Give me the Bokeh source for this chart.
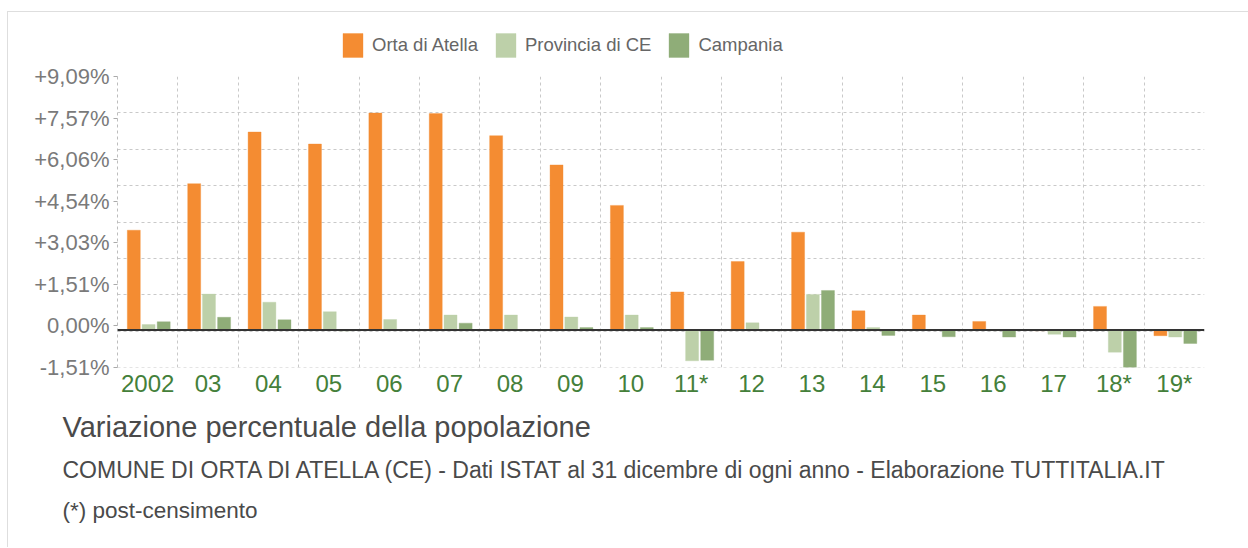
from bokeh.plotting import figure
from bokeh.layouts import column
from bokeh.models import (ColumnDataSource, Range1d, FixedTicker, Span, Label,
                          Legend, LegendItem, CustomJSTickFormatter)
from bokeh.transform import dodge
from bokeh.embed import file_html
from bokeh.resources import INLINE

# ---------------- data ----------------
years = ["2002", "03", "04", "05", "06", "07", "08", "09", "10", "11*",
         "12", "13", "14", "15", "16", "17", "18*", "19*"]
orta = [3.58, 5.25, 7.10, 6.67, 7.78, 7.76, 6.97, 5.92, 4.47, 1.37,
        2.46, 3.51, 0.69, 0.54, 0.31, -0.02, 0.85, -0.20]
prov = [0.20, 1.29, 1.00, 0.66, 0.38, 0.54, 0.54, 0.47, 0.54, -1.10,
        0.26, 1.28, 0.09, -0.01, -0.02, -0.15, -0.79, -0.25]
camp = [0.30, 0.46, 0.37, -0.03, -0.01, 0.25, -0.02, 0.09, 0.09, -1.08,
        -0.02, 1.42, -0.19, -0.24, -0.25, -0.25, -1.34, -0.48]
series_names = ["Orta di Atella", "Provincia di CE", "Campania"]
y_tick_labels = ["+9,09%", "+7,57%", "+6,06%", "+4,54%", "+3,03%", "+1,51%", "0,00%", "-1,51%"]
y_top = 9.09
y_bottom = -1.34

title_text = "Variazione percentuale della popolazione"
subtitle_text = ("COMUNE DI ORTA DI ATELLA (CE) - Dati ISTAT al 31 dicembre di ogni anno"
                 " - Elaborazione TUTTITALIA.IT")
note_text = "(*) post-censimento"

# ---------------- style ----------------
C_ORTA = "#f48c32"
C_PROV = "#bdd0a9"
C_CAMP = "#8fad78"
COLORS = [C_ORTA, C_PROV, C_CAMP]
FONT = "Liberation Sans"
TXT = "#4a4a4a"

n = len(years)
W = 1240
ML, MR, MT, MB = 109, 44, 14, 45
FH = 291
TOP_H = 50
MAIN_H = MT + FH + MB
BOT_H = 535 - TOP_H - MAIN_H


def blank_fig(h):
    f = figure(width=W, height=h, output_backend="svg", toolbar_location=None,
               x_range=Range1d(0, W), y_range=Range1d(0, h),
               x_axis_type=None, y_axis_type=None,
               min_border=0, outline_line_color=None,
               background_fill_color="white", border_fill_color="white")
    f.xgrid.visible = False
    f.ygrid.visible = False
    f.frame_align = False
    return f


# ---------------- legend strip ----------------
top = blank_fig(TOP_H)
proxy = ColumnDataSource(dict(x=[-100], y=[0]))   # off-canvas proxy, only used for legend swatches
items = []
for name, col in zip(series_names, COLORS):
    r = top.vbar(x="x", top="y", width=1, source=proxy, fill_color=col,
                 line_color=col, line_alpha=0.35)
    items.append(LegendItem(label=name, renderers=[r]))
legend = Legend(items=items, orientation="horizontal", location=(332, 2), padding=0, margin=0,
                spacing=15, label_standoff=7, glyph_width=25, glyph_height=30,
                border_line_color=None, background_fill_alpha=0,
                label_text_font=FONT, label_text_font_size="18.5px", label_text_color="#666666")
top.add_layout(legend)

# ---------------- main chart ----------------
src = ColumnDataSource(dict(idx=[i + 0.5 for i in range(n)], orta=orta, prov=prov, camp=camp))

p = figure(width=W, height=MAIN_H, output_backend="svg", toolbar_location=None,
           x_range=Range1d(0, n), y_range=Range1d(y_bottom, y_top),
           min_border_left=ML, min_border_right=MR, min_border_top=MT, min_border_bottom=MB,
           background_fill_color="white", border_fill_color="white", outline_line_color=None)
p.frame_align = False

p.xgrid.ticker = FixedTicker(ticks=list(range(1, n)))
p.ygrid.ticker = FixedTicker(ticks=[y_top - k * (y_top - y_bottom) / 8 for k in range(9)])
for g in (p.xgrid, p.ygrid):
    g.grid_line_color = "#c9c9c9"
    g.grid_line_dash = "3 3"
    g.grid_line_width = 1

ystep = (y_top - y_bottom) / 7
p.yaxis.ticker = FixedTicker(ticks=[y_top - k * ystep for k in range(8)])
p.yaxis.formatter = CustomJSTickFormatter(args=dict(labels=y_tick_labels, top=y_top, step=ystep), code="""
const k = Math.round((top - tick) / step);
return (k >= 0 && k < labels.length) ? labels[k] : "";
""")
p.yaxis.axis_line_color = "#bdbdbd"
p.yaxis.axis_line_dash = "3 3"
p.yaxis.major_tick_line_color = "#aaaaaa"
p.yaxis.major_tick_out = 4
p.yaxis.major_tick_in = 0
p.yaxis.minor_tick_line_color = None
p.yaxis.major_label_standoff = 4
p.yaxis.major_label_text_font = FONT
p.yaxis.major_label_text_font_size = "22px"
p.yaxis.major_label_text_color = "#7a7a7a"

p.xaxis.ticker = FixedTicker(ticks=[i + 0.5 for i in range(n)])
p.xaxis.formatter = CustomJSTickFormatter(args=dict(labels=years), code="""
const k = Math.round(tick - 0.5);
return (k >= 0 && k < labels.length) ? labels[k] : "";
""")
p.xaxis.axis_line_color = None
p.xaxis.major_tick_line_color = None
p.xaxis.minor_tick_line_color = None
p.xaxis.major_label_standoff = -4
p.xaxis.major_label_text_font = FONT
p.xaxis.major_label_text_font_size = "24px"
p.xaxis.major_label_text_color = "#44803a"

bw = 0.215
for field, off, col in (("orta", -0.23, C_ORTA), ("prov", 0.015, C_PROV), ("camp", 0.265, C_CAMP)):
    p.vbar(x=dodge("idx", off), top=field, bottom=0, width=bw, source=src,
           fill_color=col, line_color=col, line_alpha=0.35, line_width=1)

p.add_layout(Span(location=0, dimension="width", line_color="#333333", line_width=2))

# ---------------- caption strip ----------------
bot = blank_fig(BOT_H)
bot.add_layout(Label(x=54, y=BOT_H - 14, text=title_text, text_baseline="alphabetic",
                     text_font=FONT, text_font_size="29px", text_color=TXT))
bot.add_layout(Label(x=54, y=BOT_H - 57, text=subtitle_text, text_baseline="alphabetic",
                     text_font=FONT, text_font_size="23px", text_color=TXT))
bot.add_layout(Label(x=54, y=BOT_H - 98, text=note_text, text_baseline="alphabetic",
                     text_font=FONT, text_font_size="22.5px", text_color=TXT))

layout = column(top, p, bot, spacing=0)
layout.styles = {"border-top": "1px solid #dedede", "border-left": "1px solid #dedede",
                 "margin-top": "11px", "margin-left": "7px"}

open("out.html", "w").write(file_html(layout, INLINE))
